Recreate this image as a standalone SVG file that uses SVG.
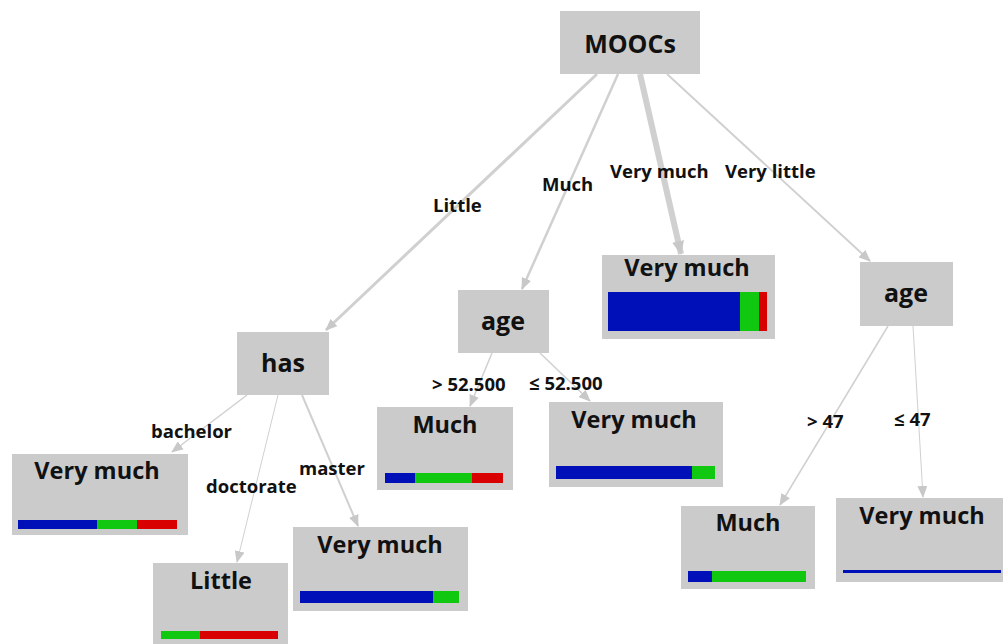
<svg xmlns="http://www.w3.org/2000/svg" width="1003" height="644" viewBox="0 0 1003 644">
<style>
.box{fill:#cbcbcb}
.t{font-family:"Open Sans","Liberation Sans",sans-serif;font-weight:700;fill:#111;text-anchor:middle}
.n{font-size:25px}
.lf{font-size:23.5px}
.el{font-family:"Open Sans","Liberation Sans",sans-serif;font-weight:700;font-size:18.5px;fill:#111}
.e{fill:none;stroke:#d0d0d0;marker-end:url(#ah)}
.b{fill:#0010b8}.g{fill:#10c810}.r{fill:#d80000}
</style>
<defs>
<marker id="ah" viewBox="0 0 12 10" refX="11" refY="5" markerWidth="12" markerHeight="10" markerUnits="userSpaceOnUse" orient="auto"><path d="M0,0 L12,5 L0,10 z" fill="#c8c8c8"/></marker>
<marker id="ahb" viewBox="0 0 14 12" refX="13" refY="6" markerWidth="14" markerHeight="12" markerUnits="userSpaceOnUse" orient="auto"><path d="M0,0 L14,6 L0,12 z" fill="#c8c8c8"/></marker>
</defs>
<rect width="1003" height="644" fill="#fff"/>
<g id="connectors">
<path class="e" d="M597,74 L326,330" stroke-width="3"/>
<path class="e" d="M618,74 L522,289" stroke-width="2.5"/>
<path class="e" d="M640,74 L681,254" stroke-width="6" style="marker-end:url(#ahb)"/>
<path class="e" d="M667,74 L870,261" stroke-width="2"/>
<path class="e" d="M247,395 L172,452" stroke-width="1.5"/>
<path class="e" d="M278,395 L237,562" stroke-width="1" stroke="#e2e2e2"/>
<path class="e" d="M302,395 L358,526" stroke-width="2"/>
<path class="e" d="M492,353 L470,406" stroke-width="1.5"/>
<path class="e" d="M540,353 L590,401" stroke-width="1.5"/>
<path class="e" d="M888,326 L780,505" stroke-width="1.5"/>
<path class="e" d="M913,326 L923,497" stroke-width="1" stroke="#e0e0e0"/>
</g>
<g id="edge-labels">
<text class="el" x="433" y="212">Little</text>
<text class="el" x="542" y="191">Much</text>
<text class="el" x="610" y="178">Very much</text>
<text class="el" x="725" y="178">Very little</text>
<text class="el" x="151" y="438">bachelor</text>
<text class="el" x="206" y="493">doctorate</text>
<text class="el" x="299" y="475">master</text>
<text class="el" x="432" y="391">&gt; 52.500</text>
<text class="el" x="529" y="390">≤ 52.500</text>
<text class="el" x="807" y="428">&gt; 47</text>
<text class="el" x="894" y="426">≤ 47</text>
</g>
<g id="n-moocs"><rect class="box" x="560" y="11" width="140" height="63"/><text class="t n" x="630" y="53">MOOCs</text></g>
<g id="n-has"><rect class="box" x="237" y="332" width="92" height="63"/><text class="t n" x="283" y="372">has</text></g>
<g id="n-age1"><rect class="box" x="458" y="290" width="91" height="63"/><text class="t n" x="503" y="330">age</text></g>
<g id="n-age2"><rect class="box" x="860" y="262" width="93" height="64"/><text class="t n" x="906" y="302">age</text></g>
<g id="l-vm-top"><rect class="box" x="602" y="255" width="173" height="84"/><text class="t lf" x="687" y="276">Very much</text>
<rect class="b" x="608" y="292" width="132" height="39"/><rect class="g" x="740" y="292" width="19" height="39"/><rect class="r" x="759" y="292" width="8" height="39"/></g>
<g id="l-vm-bachelor"><rect class="box" x="12" y="454" width="176" height="81"/><text class="t lf" x="97" y="479">Very much</text>
<rect class="b" x="18" y="520" width="79" height="9"/><rect class="g" x="97" y="520" width="40" height="9"/><rect class="r" x="137" y="520" width="40" height="9"/></g>
<g id="l-little"><rect class="box" x="153" y="563" width="135" height="81"/><text class="t lf" x="221" y="589">Little</text>
<rect class="g" x="161" y="631" width="39" height="8"/><rect class="r" x="200" y="631" width="78" height="8"/></g>
<g id="l-vm-master"><rect class="box" x="293" y="527" width="175" height="84"/><text class="t lf" x="380" y="553">Very much</text>
<rect class="b" x="300" y="591" width="133" height="12"/><rect class="g" x="433" y="591" width="26" height="12"/></g>
<g id="l-much-mid"><rect class="box" x="377" y="407" width="136" height="83"/><text class="t lf" x="445" y="433">Much</text>
<rect class="b" x="385" y="473" width="30" height="10"/><rect class="g" x="415" y="473" width="57" height="10"/><rect class="r" x="472" y="473" width="31" height="10"/></g>
<g id="l-vm-mid"><rect class="box" x="549" y="402" width="174" height="85"/><text class="t lf" x="634" y="428">Very much</text>
<rect class="b" x="556" y="466" width="136" height="13"/><rect class="g" x="692" y="466" width="23" height="13"/></g>
<g id="l-much-right"><rect class="box" x="681" y="506" width="134" height="83"/><text class="t lf" x="748" y="531">Much</text>
<rect class="b" x="688" y="571" width="24" height="11"/><rect class="g" x="712" y="571" width="94" height="11"/></g>
<g id="l-vm-right"><rect class="box" x="836" y="498" width="167" height="84"/><text class="t lf" x="922" y="524">Very much</text>
<rect class="b" x="843" y="570" width="158" height="3"/></g>
</svg>
